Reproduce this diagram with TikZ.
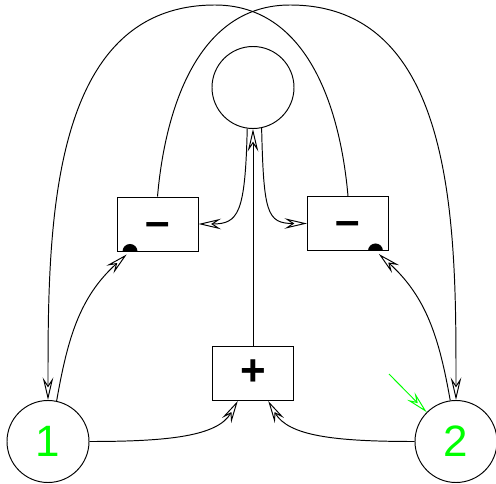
\documentclass[tikz,border=0pt]{standalone}
\usepackage{fontspec}
\setmainfont{Liberation Sans}
\usetikzlibrary{arrows.meta}
\definecolor{figgreen}{RGB}{0,255,0}
\tikzset{
  >={Stealth[open,length=0.45cm,width=0.21cm,inset=0.16cm]},
  place/.style={circle,draw,minimum size=1.64cm,inner sep=0pt},
  opbox/.style={rectangle,draw,minimum width=1.62cm,minimum height=1.08cm,inner sep=0pt,
    font=\fontsize{25}{30}\selectfont\bfseries,text height=14pt,text depth=0pt},
  halfdot/.style={circle,minimum size=0.16cm,inner sep=0pt},
  tokenlabel/.style={text=figgreen,font=\fontsize{25}{30}\selectfont}
}

\begin{document}
\begin{tikzpicture}[line width=0.55pt]
\useasboundingbox (0,0) rectangle (9.92,9.66);
\node[place] (topc) at (5.06,7.91) {};
\node[opbox] (lbox) at (3.15,5.18) {\textendash};
\node[opbox] (rbox) at (6.96,5.19) {\textendash};
\node[opbox] (plus) at (5.06,2.19) {+};
\node[place,tokenlabel] (c1) at (0.96,0.83) {1};
\node[place,tokenlabel] (c2) at (9.12,0.83) {2};
\node[halfdot] (ldot) at ([xshift=0.27cm]lbox.south west) {};
\node[halfdot] (rdot) at ([xshift=-0.27cm]rbox.south east) {};
\fill ([xshift=0.15cm]ldot.center) arc[start angle=0,end angle=180,radius=0.15cm];
\fill ([xshift=0.15cm]rdot.center) arc[start angle=0,end angle=180,radius=0.15cm];
\coordinate (archL) at (4.30,9.56);
\coordinate (archR) at (5.80,9.56);
\coordinate (ptr) at (7.78,2.18);

\draw[->] (plus) -- (topc);
\draw[->] (topc.-98) .. controls +(-0.04,-1.7) and +(0.8,0) .. (lbox.east);
\draw[->] (topc.-78) .. controls +(0.04,-1.7) and +(-0.8,0) .. (rbox.west);
\draw[->] (c1.east) .. controls +(1.6,0) and +(-0.4,-0.7) .. (plus.-119);
\draw[->] (c2.west) .. controls +(-1.6,0) and +(0.4,-0.7) .. (plus.-61);
\draw[->] (c1.78) to[out=80,in=-138] (ldot);
\draw[->] (c2.98) to[out=100,in=-42] (rdot);
\draw[->] (lbox.north) to[out=85,in=180] (archR) to[out=0,in=90] (c2.north);
\draw[->] (rbox.north) to[out=95,in=0] (archL) to[out=180,in=90] (c1.north);
\draw[->,figgreen] (ptr) -- (c2.135);
\end{tikzpicture}
\end{document}
